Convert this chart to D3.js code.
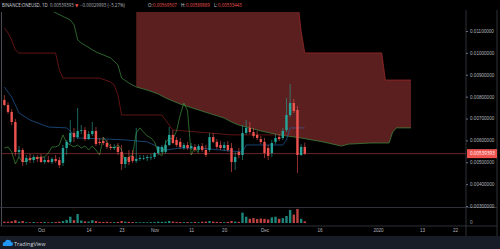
<!DOCTYPE html>
<html>
<head>
<meta charset="utf-8">
<script src="https://cdn.jsdelivr.net/npm/d3@7"></script>
<style>
  body { margin: 0; background: #000; overflow: hidden; }
  svg { display: block; font-family: "Open Sans", "DejaVu Sans", sans-serif; }
</style>
</head>
<body>
<div id="chart"></div>
<script>
// daily candles, first one is 2019-09-21
const firstDay = new Date(2019, 8, 21);

const opens = [0.00785,0.00762,0.00730,0.00684,0.00547,0.00556,0.00501,0.00519,0.00510,0.00524,
  0.00524,0.00501,0.00510,0.00501,0.00515,0.00510,0.00497,0.00565,0.00593,0.00634,
  0.00615,0.00643,0.00647,0.00606,0.00629,0.00643,0.00593,0.00597,0.00588,0.00570,
  0.00565,0.00570,0.00547,0.00492,0.00524,0.00529,0.00506,0.00515,0.00519,0.00519,
  0.00524,0.00524,0.00542,0.00547,0.00547,0.00579,0.00625,0.00602,0.00593,0.00565,
  0.00579,0.00565,0.00570,0.00556,0.00574,0.00556,0.00556,0.00615,0.00593,0.00579,
  0.00565,0.00579,0.00565,0.00501,0.00547,0.00533,0.00634,0.00657,0.00638,0.00625,
  0.00606,0.00593,0.00565,0.00542,0.00593,0.00615,0.00611,0.00647,0.00716,0.00771,
  0.00739,0.00533,0.00569507];
const highs = [0.00807,0.00775,0.00743,0.00698,0.00574,0.00565,0.00533,0.00538,0.00533,0.00533,
  0.00538,0.00524,0.00529,0.00524,0.00533,0.00524,0.00579,0.00602,0.00693,0.00657,
  0.00748,0.00670,0.00661,0.00643,0.00684,0.00661,0.00611,0.00615,0.00602,0.00583,
  0.00583,0.00588,0.00579,0.00519,0.00556,0.00556,0.00657,0.00533,0.00533,0.00533,
  0.00538,0.00547,0.00574,0.00579,0.00602,0.00661,0.00647,0.00615,0.00611,0.00588,
  0.00593,0.00588,0.00583,0.00583,0.00588,0.00579,0.00634,0.00634,0.00606,0.00597,
  0.00593,0.00597,0.00588,0.00547,0.00565,0.00670,0.00693,0.00684,0.00657,0.00643,
  0.00620,0.00611,0.00579,0.00602,0.00629,0.00629,0.00657,0.00794,0.00858,0.00789,
  0.00757,0.00583,0.00589889];
const lows = [0.00757,0.00721,0.00670,0.00529,0.00524,0.00483,0.00487,0.00497,0.00497,0.00501,
  0.00497,0.00492,0.00497,0.00492,0.00497,0.00474,0.00483,0.00533,0.00583,0.00593,
  0.00606,0.00629,0.00597,0.00602,0.00620,0.00574,0.00579,0.00579,0.00561,0.00556,
  0.00556,0.00533,0.00465,0.00474,0.00487,0.00497,0.00497,0.00506,0.00510,0.00506,
  0.00510,0.00515,0.00533,0.00542,0.00538,0.00574,0.00583,0.00570,0.00561,0.00556,
  0.00556,0.00556,0.00547,0.00547,0.00547,0.00524,0.00547,0.00588,0.00561,0.00556,
  0.00551,0.00547,0.00455,0.00465,0.00519,0.00510,0.00625,0.00629,0.00611,0.00602,
  0.00583,0.00519,0.00510,0.00524,0.00583,0.00597,0.00602,0.00638,0.00707,0.00725,
  0.00451,0.00529,0.00533443];
const closes = [0.00762,0.00730,0.00684,0.00547,0.00556,0.00501,0.00519,0.00510,0.00524,0.00515,
  0.00501,0.00510,0.00501,0.00515,0.00506,0.00487,0.00565,0.00593,0.00634,0.00615,
  0.00643,0.00647,0.00606,0.00629,0.00643,0.00583,0.00588,0.00588,0.00570,0.00565,
  0.00570,0.00547,0.00492,0.00524,0.00501,0.00506,0.00515,0.00519,0.00519,0.00524,
  0.00524,0.00542,0.00570,0.00570,0.00579,0.00625,0.00588,0.00579,0.00570,0.00579,
  0.00565,0.00574,0.00556,0.00574,0.00556,0.00533,0.00615,0.00593,0.00570,0.00565,
  0.00579,0.00556,0.00501,0.00524,0.00533,0.00634,0.00657,0.00638,0.00620,0.00611,
  0.00593,0.00542,0.00529,0.00588,0.00611,0.00606,0.00643,0.00716,0.00771,0.00734,
  0.00533,0.00570,0.00539393];
const volumes = [10,9,12,20,10,14,6,5,7,5,6,8,5,6,7,9,14,22,45,20,
  64,18,12,10,20,14,8,7,9,6,6,8,14,9,8,7,6,5,6,5,
  6,7,10,8,9,14,10,8,7,6,7,6,8,6,9,10,14,10,8,7,
  6,8,14,10,8,74,45,30,35,28,32,30,25,40,45,30,35,50,93,60,
  100,30,12];

// ichimoku lines: [bar index, price]
const tenkan = [[0,0.00844],[2,0.00798],[4,0.00725],[7,0.00693],[12,0.00661],[17,0.00657],
  [20,0.00611],[28,0.00606],[33,0.00602],[39,0.00593],[42,0.00570],[44,0.00556],[48,0.00565],
  [53,0.00565],[65,0.00547],[66,0.00579],[76,0.00579],[77,0.00602],[78,0.00657],[82,0.00657]];
const kijun = [[0,0.01114],[1,0.01091],[2,0.01059],[3,0.01013],[4,0.00999],[14,0.00999],
  [15,0.00922],[16,0.00885],[26,0.00885],[29,0.00867],[30,0.00853],[31,0.00807],[32,0.00716],
  [43,0.00716],[44,0.00693],[46,0.00647],[53,0.00638],[62,0.00625],[78,0.00625],[79,0.00657],[82,0.00657]];
const spanA = [[12,0.0120],[18,0.0115],[19,0.0113],[20,0.0106],[21,0.01045],[25,0.01004],
  [29,0.00977],[31,0.00945],[32,0.00885],[34,0.00862],[36,0.00844],[39,0.0083],[42,0.00812],
  [44,0.00794],[48,0.00766],[53,0.00739],[60,0.00702],[62,0.00684],[64,0.0067],[70,0.00643],
  [75,0.00625],[81,0.00611],[87,0.00593],[92,0.00574],[94,0.00583],[100,0.00588],[105,0.00588],
  [106,0.00638],[107,0.00657],[111,0.00657]];
const spanB = [[36,0.0125],[80,0.0125],[81,0.0110],[82,0.0100],[103,0.0100],[104,0.00876],[111,0.00876]];
const lagShift = 29;

const priceTicks = [0.003,0.004,0.005,0.006,0.007,0.008,0.009,0.010,0.011];
const timeTicks = [
  [new Date(2019,9,1),"Oct"],[new Date(2019,9,14),"14"],[new Date(2019,9,23),"23"],
  [new Date(2019,10,1),"Nov"],[new Date(2019,10,11),"11"],[new Date(2019,10,20),"20"],
  [new Date(2019,11,1),"Dec"],[new Date(2019,11,16),"16"],[new Date(2020,0,1),"2020"],
  [new Date(2020,0,13),"13"],[new Date(2020,0,22),"22"]];

const W = 500, H = 249;
const up = "#26a69a", down = "#ef5350";
const textCol = "#b2b5be";

const svg = d3.select("#chart").append("svg").attr("width", W).attr("height", H);
svg.append("rect").attr("width", W).attr("height", H).attr("fill", "#000");

const x = d3.scaleTime().domain([new Date(2019,9,1), new Date(2020,0,22)]).range([41, 455]);
const y = d3.scaleLinear().domain([0.003, 0.011]).range([206, 31]);
const bx = i => x(d3.timeDay.offset(firstDay, i));

const candles = closes.map((c, i) => ({i: i, o: opens[i], h: highs[i], l: lows[i], c: c, v: volumes[i]}));

svg.append("clipPath").attr("id", "pane")
  .append("rect").attr("x", 2).attr("y", 12).attr("width", 464).attr("height", 195);

const g = svg.append("g").attr("clip-path", "url(#pane)");

// cloud: top along span B, back along span A
const cloudPts = spanB.concat(spanA.filter(d => d[0] >= 36).slice().reverse());
const lineFn = d3.line().x(d => bx(d[0])).y(d => y(d[1]));
g.append("path").attr("d", lineFn(cloudPts) + "Z").attr("fill", "#5c1f1f");

g.append("path").attr("d", lineFn(spanA)).attr("fill", "none").attr("stroke", "#3e8e41").attr("stroke-width", 0.7);
g.append("path").attr("d", lineFn(spanB)).attr("fill", "none").attr("stroke", "#a32a2a").attr("stroke-width", 0.7);
g.append("path").attr("d", lineFn(kijun)).attr("fill", "none").attr("stroke", "#8a1c1c").attr("stroke-width", 0.7);
g.append("path").attr("d", lineFn(tenkan)).attr("fill", "none").attr("stroke", "#1f5f9e").attr("stroke-width", 0.7);

// lagging span = close shifted back
const lag = candles.filter(d => d.i >= lagShift).map(d => [d.i - lagShift, d.c]);
g.append("path").attr("d", lineFn(lag)).attr("fill", "none").attr("stroke", "#3f8f3a").attr("stroke-width", 0.7);

// last price line
g.append("line").attr("x1", 2).attr("x2", 466)
  .attr("y1", y(closes[closes.length - 1])).attr("y2", y(closes[closes.length - 1]))
  .attr("stroke", down).attr("stroke-opacity", 0.75).attr("stroke-width", 0.6);

const cg = g.selectAll(".candle").data(candles).enter().append("g");
cg.append("line")
  .attr("x1", d => bx(d.i)).attr("x2", d => bx(d.i))
  .attr("y1", d => y(d.h)).attr("y2", d => y(d.l))
  .attr("stroke", d => d.c >= d.o ? up : down).attr("stroke-width", 0.6);
cg.append("rect")
  .attr("x", d => bx(d.i) - 1.2).attr("width", 2.4)
  .attr("y", d => y(Math.max(d.o, d.c)))
  .attr("height", d => Math.max(0.6, Math.abs(y(d.o) - y(d.c))))
  .attr("fill", d => d.c >= d.o ? up : down);

// volume pane
const yv = d3.scaleLinear().domain([0, 100]).range([223, 209]);
svg.append("g").selectAll("rect").data(candles).enter().append("rect")
  .attr("x", d => bx(d.i) - 1.2).attr("width", 2.4)
  .attr("y", d => yv(d.v)).attr("height", d => yv(0) - yv(d.v))
  .attr("fill", d => d.c >= d.o ? up : down).attr("fill-opacity", 0.8);

// frame lines
const frame = svg.append("g").attr("stroke", "#3a3d47").attr("stroke-width", 0.8);
frame.append("line").attr("x1", 1.5).attr("x2", 1.5).attr("y1", 12).attr("y2", 226).attr("stroke", "#5d606b");
frame.append("line").attr("x1", 466).attr("x2", 466).attr("y1", 10).attr("y2", 236);
frame.append("line").attr("x1", 497).attr("x2", 497).attr("y1", 10).attr("y2", 236);
frame.append("line").attr("x1", 0).attr("x2", 497).attr("y1", 207.5).attr("y2", 207.5);
frame.append("line").attr("x1", 0).attr("x2", 497).attr("y1", 226).attr("y2", 226);

// price axis
const yAxis = svg.append("g").attr("transform", "translate(466,0)")
  .call(d3.axisRight(y).tickValues(priceTicks).tickFormat(d3.format(".8f")).tickSize(2).tickPadding(2));
yAxis.select(".domain").remove();
yAxis.selectAll("line").attr("stroke", "#6b6e78");
yAxis.selectAll("text").attr("fill", textCol).attr("font-size", 4.6);

svg.append("text").attr("x", 470).attr("y", 223.5).attr("fill", textCol).attr("font-size", 4.6).text("0");

const last = closes[closes.length - 1];
svg.append("rect").attr("x", 467).attr("y", y(last) - 4.5).attr("width", 30).attr("height", 9).attr("fill", down);
svg.append("text").attr("x", 470).attr("y", y(last) + 1.6).attr("fill", "#fff").attr("font-size", 4.6)
  .text(d3.format(".8f")(last));

// time axis
const xAxis = svg.append("g").attr("transform", "translate(0,226)")
  .call(d3.axisBottom(x).tickValues(timeTicks.map(d => d[0])).tickSize(0).tickPadding(3)
    .tickFormat((d, k) => timeTicks[k][1]));
xAxis.select(".domain").remove();
xAxis.selectAll("text").attr("fill", textCol).attr("font-size", 4.6);

// header
const hdr = svg.append("text").attr("y", 7).attr("font-size", 4.4).attr("fill", "#d1d4dc");
hdr.append("tspan").attr("x", 2).text("BINANCE:ONEUSD, 1D");
hdr.append("tspan").attr("x", 50).attr("fill", textCol).text(d3.format(".8f")(last));
hdr.append("tspan").attr("x", 75).attr("fill", down).text("▼");
hdr.append("tspan").attr("x", 80).attr("fill", textCol).text("−0.00029993 (−5.27%)");
hdr.append("tspan").attr("x", 148).text("O:");
hdr.append("tspan").attr("x", 153).attr("fill", down).text(d3.format(".8f")(opens[opens.length - 1]));
hdr.append("tspan").attr("x", 181).text("H:");
hdr.append("tspan").attr("x", 186).attr("fill", down).text(d3.format(".8f")(highs[highs.length - 1]));
hdr.append("tspan").attr("x", 214).text("L:");
hdr.append("tspan").attr("x", 218).attr("fill", down).text(d3.format(".8f")(lows[lows.length - 1]));

// bottom bar with logo
svg.append("rect").attr("x", 0).attr("y", 236).attr("width", W).attr("height", 13).attr("fill", "#181c27");
svg.append("path")
  .attr("d", "M3,246 Q2,242 5,242 Q6,239 9,240 Q11,240 11,242 Q13,242 13,244 Q13,246 11,246 Z")
  .attr("fill", "#2196f3");
svg.append("text").attr("x", 14).attr("y", 245.5).attr("font-size", 5.5).attr("fill", "#d1d4dc").text("TradingView");
</script>
</body>
</html>
